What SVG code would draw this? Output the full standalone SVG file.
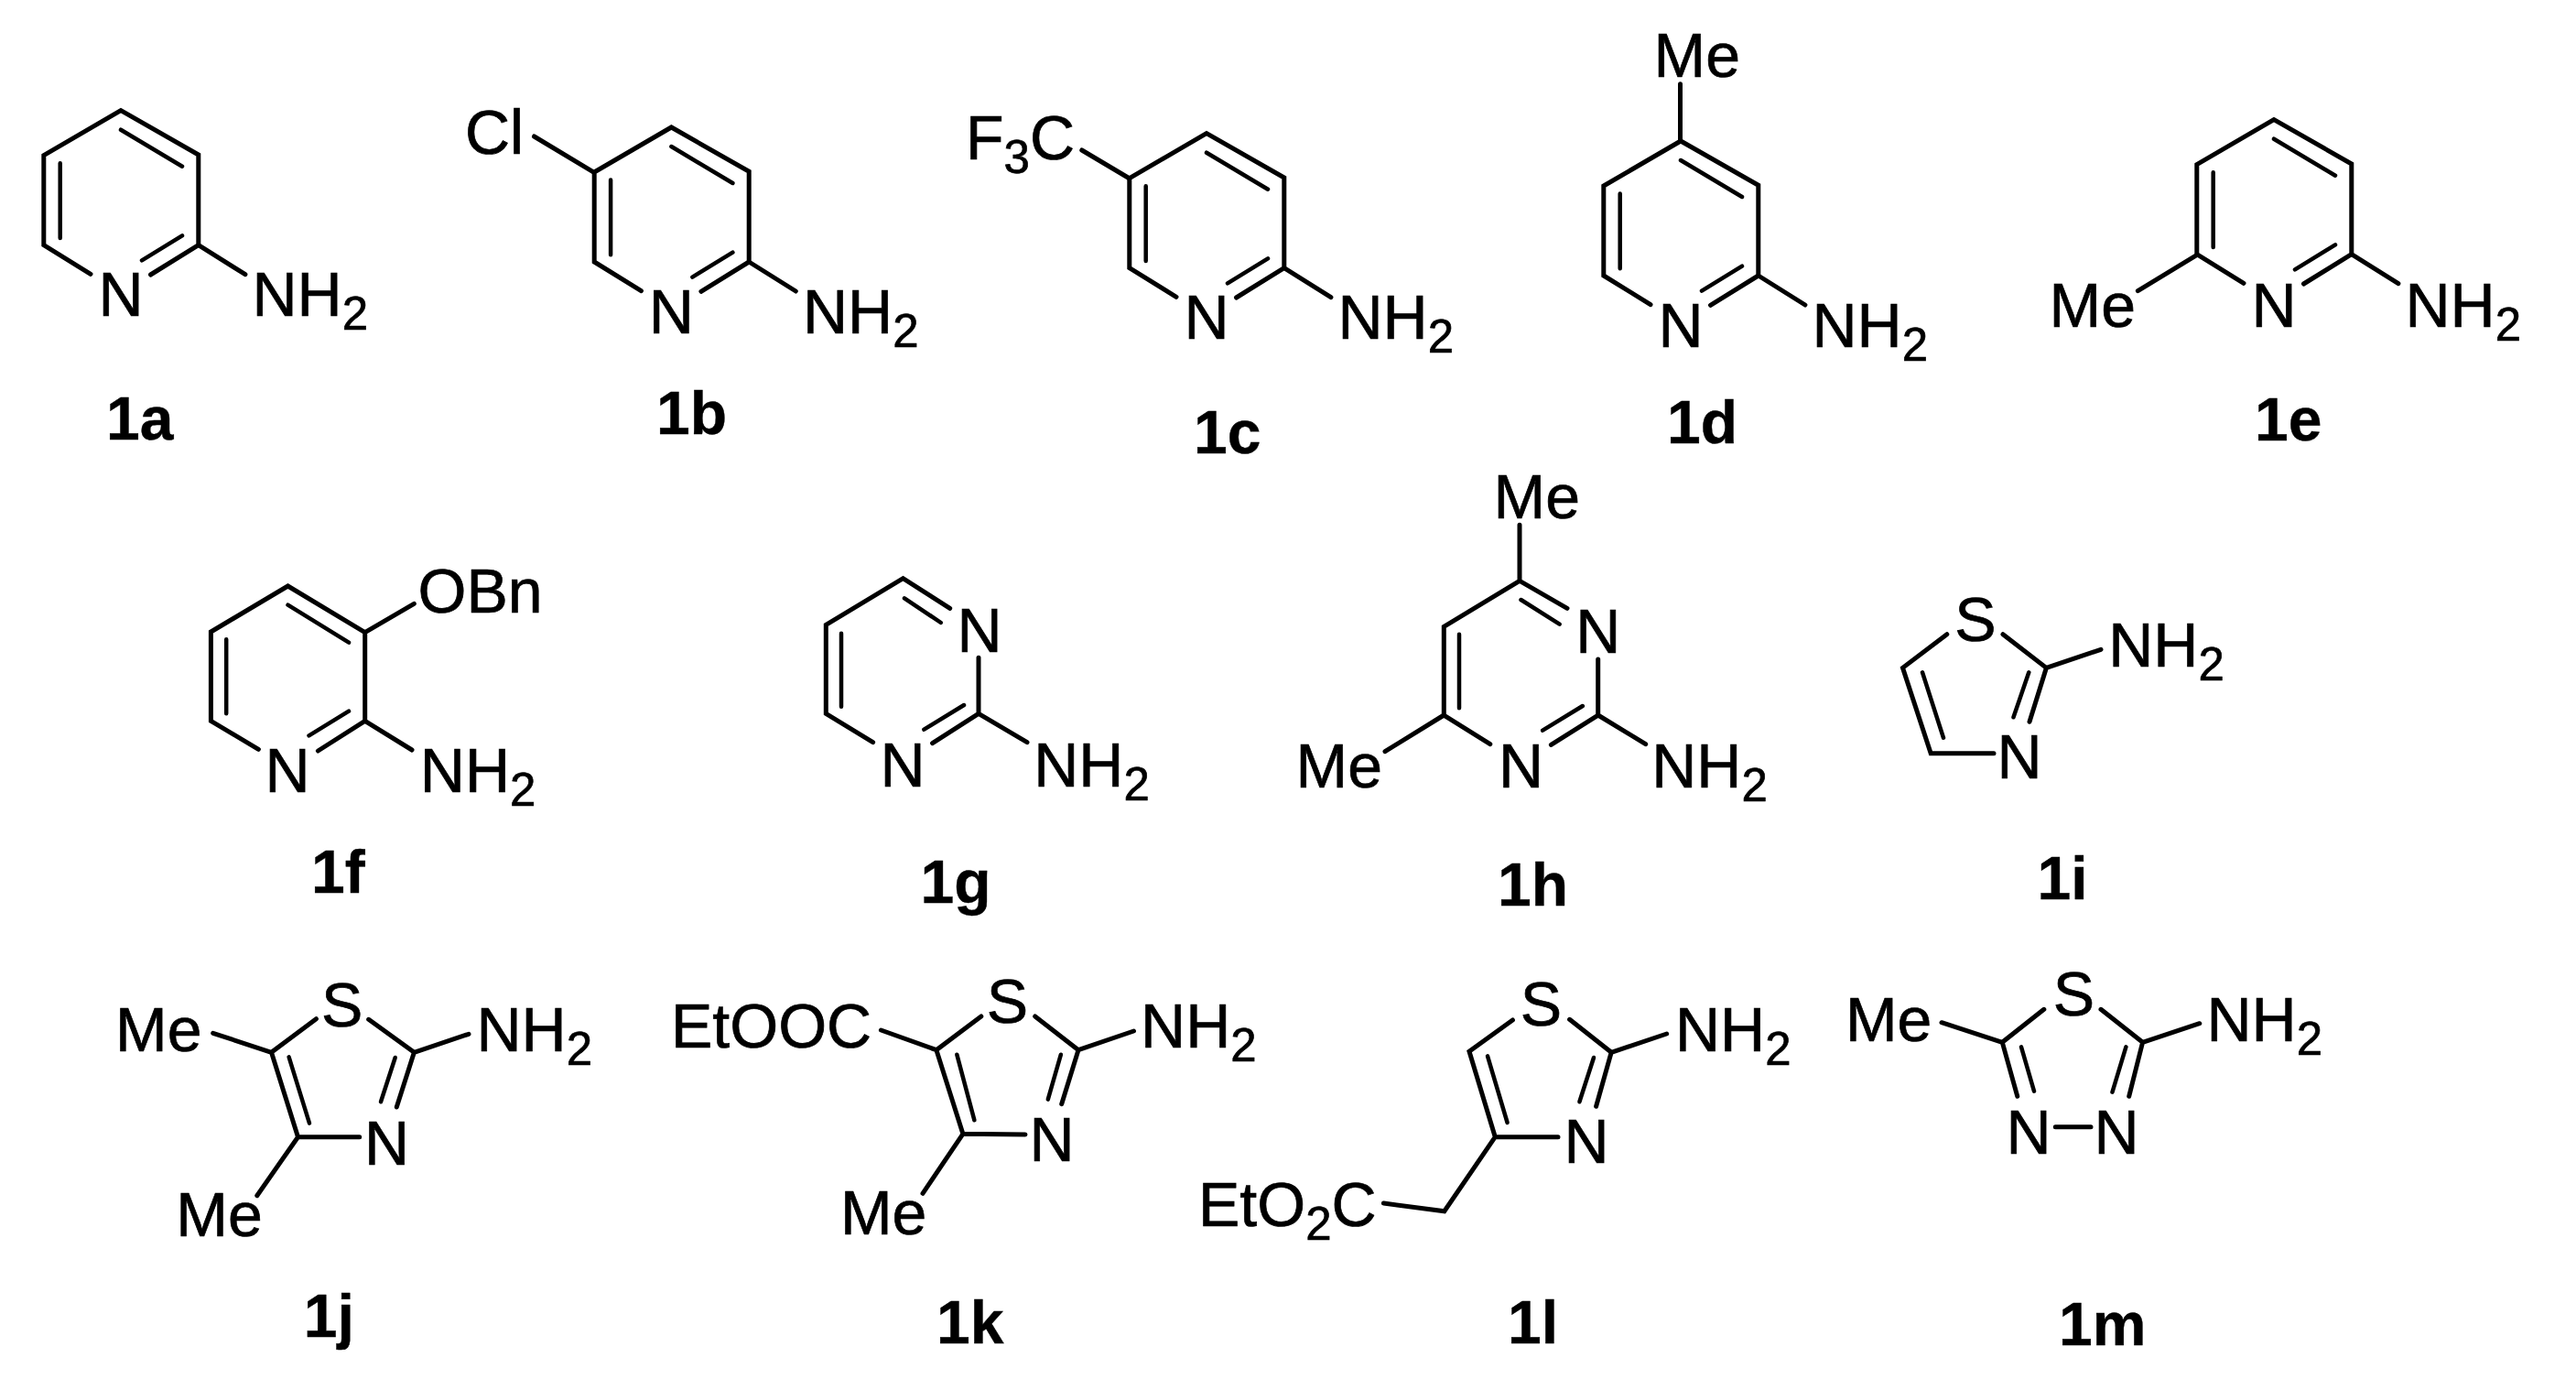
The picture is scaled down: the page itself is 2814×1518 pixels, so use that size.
<svg xmlns="http://www.w3.org/2000/svg" width="2814" height="1518" viewBox="0 0 2814 1518">
<style>
text{font-family:"Liberation Sans",Arial,sans-serif;font-size:68px;fill:#000;stroke:#000;stroke-width:.7}
.m{text-anchor:middle}
.l{font-weight:bold;font-size:66px;stroke-width:.4}
.s{font-size:51px}
path,use{fill:none;stroke:#000;stroke-width:5;stroke-linejoin:miter;stroke-linecap:round}
.i{stroke-width:4.5}
</style>
<defs>
<g id="py">
<path d="M-33 178.6L-84.2 147V49L0 0L84.8 48.3V147L32.5 179.3M84.8 147L135.9 179"/>
<path class="i" d="M0 21L67 61M-66.3 57.6V139.3M67 136.6L23 163.6"/>
</g>
</defs>
<rect width="2814" height="1518" fill="#fff"/>
<g id="mol-1a">
<use href="#py" x="132" y="120.7"/>
<text class="m" x="132" y="345">N</text>
<text x="275.5" y="345">NH<tspan class="s" dy="15">2</tspan></text>
<text class="l" x="116" y="480">1a</text>
</g>
<g id="mol-1b">
<use href="#py" x="733.4" y="139"/>
<path d="M649 188.3L583.5 149"/>
<text x="508" y="167.7">Cl</text>
<text class="m" x="733.4" y="364">N</text>
<text x="877" y="364">NH<tspan class="s" dy="15">2</tspan></text>
<text class="l" x="717" y="473.7">1b</text>
</g>
<g id="mol-1c">
<use href="#py" x="1318" y="145.7"/>
<path d="M1234 195L1181.8 164"/>
<text x="1055" y="174.3">F<tspan class="s" dy="15">3</tspan><tspan dy="-15">C</tspan></text>
<text class="m" x="1318" y="370">N</text>
<text x="1461.5" y="370">NH<tspan class="s" dy="15">2</tspan></text>
<text class="l" x="1304" y="495">1c</text>
</g>
<g id="mol-1d">
<use href="#py" x="1836" y="154"/>
<path d="M1835.5 154V91.7"/>
<text x="1806.5" y="84.3">Me</text>
<text class="m" x="1836" y="378.7">N</text>
<text x="1979.5" y="378.7">NH<tspan class="s" dy="15">2</tspan></text>
<text class="l" x="1821" y="483.7">1d</text>
</g>
<g id="mol-1e">
<use href="#py" x="2484" y="130.7"/>
<path d="M2400 278.3L2335.4 317.7"/>
<text x="2238.5" y="356.7">Me</text>
<text class="m" x="2484" y="356.7">N</text>
<text x="2627.5" y="356.7">NH<tspan class="s" dy="15">2</tspan></text>
<text class="l" x="2463" y="481">1e</text>
</g>
<g id="mol-1f">
<path d="M282.4 818.3L230.4 787.3V690L314.5 640L398.7 690.7V787.3L347.4 820M398.7 787.3L450 819M398.7 690.7L452.3 659.3"/>
<path class="i" d="M314.5 660.7L381 701.7M247.2 698.3V779.3M381 776.7L337.5 803.3"/>
<text x="456.5" y="669.3">OBn</text>
<text class="m" x="314" y="865.3">N</text>
<text x="458.8" y="865.3">NH<tspan class="s" dy="15">2</tspan></text>
<text class="l" x="340" y="975.3">1f</text>
</g>
<g id="mol-1g">
<path d="M1037.7 664.3L986.5 631.7L902.3 682.3V779.3L953.6 810.7M1069 718.3V779.3L1018.6 811.7M1069 779.3L1122 810.7"/>
<path class="i" d="M988 653.3L1027.8 680M919 691.7V771.7M1053 770L1009.4 796.7"/>
<text class="m" x="1070" y="711.7">N</text>
<text class="m" x="986" y="858.7">N</text>
<text x="1129.2" y="858.7">NH<tspan class="s" dy="15">2</tspan></text>
<text class="l" x="1005.6" y="986">1g</text>
</g>
<g id="mol-1h">
<path d="M1660 573.3V634.3L1712 664.3M1660 634.3L1577.3 684.3V781L1627.8 812.7M1577.3 781L1513 820.7M1745.7 720V781L1694.4 813.3M1745.7 781L1797.7 812.7"/>
<path class="i" d="M1661.5 655L1703.6 681.7M1594 692.7V773.3M1728.8 771L1685.2 797.7"/>
<text x="1631.5" y="566">Me</text>
<text class="m" x="1745.7" y="712.7">N</text>
<text class="m" x="1661.5" y="860">N</text>
<text x="1415.5" y="860">Me</text>
<text x="1804.2" y="860">NH<tspan class="s" dy="15">2</tspan></text>
<text class="l" x="1636" y="988.7">1h</text>
</g>
<g id="mol-1i">
<path d="M2126.8 692.7L2078.5 729.3L2109.2 822.7H2178M2188 692.7L2235.4 729.3L2217 788.3M2235.4 729.3L2295 709.3"/>
<path class="i" d="M2100 734.3L2123 805.7M2216.3 734.3L2199.5 783.3"/>
<text class="m" x="2158" y="699.5">S</text>
<text class="m" x="2206" y="850">N</text>
<text x="2303.2" y="727.7">NH<tspan class="s" dy="15">2</tspan></text>
<text class="l" x="2225.6" y="982">1i</text>
</g>
<g id="mol-1j">
<path d="M345.4 1112.7L296.5 1149.3L325.5 1241.7H392.7M402.7 1113.3L452.4 1149.3L433.3 1209M452.4 1149.3L512 1129.3M296.5 1149.3L232.7 1128.3M325.5 1241.7L280.8 1305.7"/>
<path class="i" d="M315.6 1154.3L338 1226.7M431.7 1155L416 1203.3"/>
<text class="m" x="373.7" y="1121">S</text>
<text class="m" x="422.6" y="1271.7">N</text>
<text x="520.5" y="1147.7">NH<tspan class="s" dy="15">2</tspan></text>
<text x="126" y="1147.7">Me</text>
<text x="192.3" y="1350.3">Me</text>
<text class="l" x="331.7" y="1460">1j</text>
</g>
<g id="mol-1k">
<path d="M1071.8 1110L1022.9 1146.7L1051.9 1238.3L1120 1239M1130.7 1110L1178 1146.7L1159.7 1205.7M1178 1146.7L1238.5 1126M1022.9 1146.7L962.4 1125M1051.9 1238.3L1008 1303.3"/>
<path class="i" d="M1045.3 1151.7L1064.4 1223.3M1158.9 1151.7L1144.8 1200.7"/>
<text class="m" x="1100.4" y="1117">S</text>
<text class="m" x="1149" y="1267.7">N</text>
<text x="1246.1" y="1144.3">NH<tspan class="s" dy="15">2</tspan></text>
<text x="733" y="1144.3">EtOOC</text>
<text x="917.9" y="1347.7">Me</text>
<text class="l" x="1023" y="1466.7">1k</text>
</g>
<g id="mol-1l">
<path d="M1652.4 1114L1605 1148.3L1633.3 1241.7H1702M1714.6 1113.3L1760.2 1149.3L1743.6 1208.3M1760.2 1149.3L1820.7 1129M1633.3 1241.7L1577.8 1322.7L1511.4 1314"/>
<path class="i" d="M1625 1153.3L1646.6 1226M1741 1155L1725.4 1203.3"/>
<text class="m" x="1683.5" y="1119.7">S</text>
<text class="m" x="1733" y="1270.3">N</text>
<text x="1830" y="1147.7">NH<tspan class="s" dy="15">2</tspan></text>
<text x="1309" y="1339.3">EtO<tspan class="s" dy="15">2</tspan><tspan dy="-15">C</tspan></text>
<text class="l" x="1647" y="1466.7">1l</text>
</g>
<g id="mol-1m">
<path d="M2232.8 1102.3L2187.3 1138.3L2203.8 1197.3M2295 1102.3L2340.6 1138.3L2325.7 1197.3M2340.6 1138.3L2402.8 1117.7M2187.3 1138.3L2121 1116.7M2245.3 1230.7H2284"/>
<path class="i" d="M2208 1143.3L2222 1191.7M2322.4 1143.3L2307.5 1192.7"/>
<text class="m" x="2265.5" y="1109">S</text>
<text class="m" x="2216" y="1260.3">N</text>
<text class="m" x="2312" y="1260.3">N</text>
<text x="2410.5" y="1137">NH<tspan class="s" dy="15">2</tspan></text>
<text x="2015.9" y="1137">Me</text>
<text class="l" x="2249" y="1469.3">1m</text>
</g>
</svg>
